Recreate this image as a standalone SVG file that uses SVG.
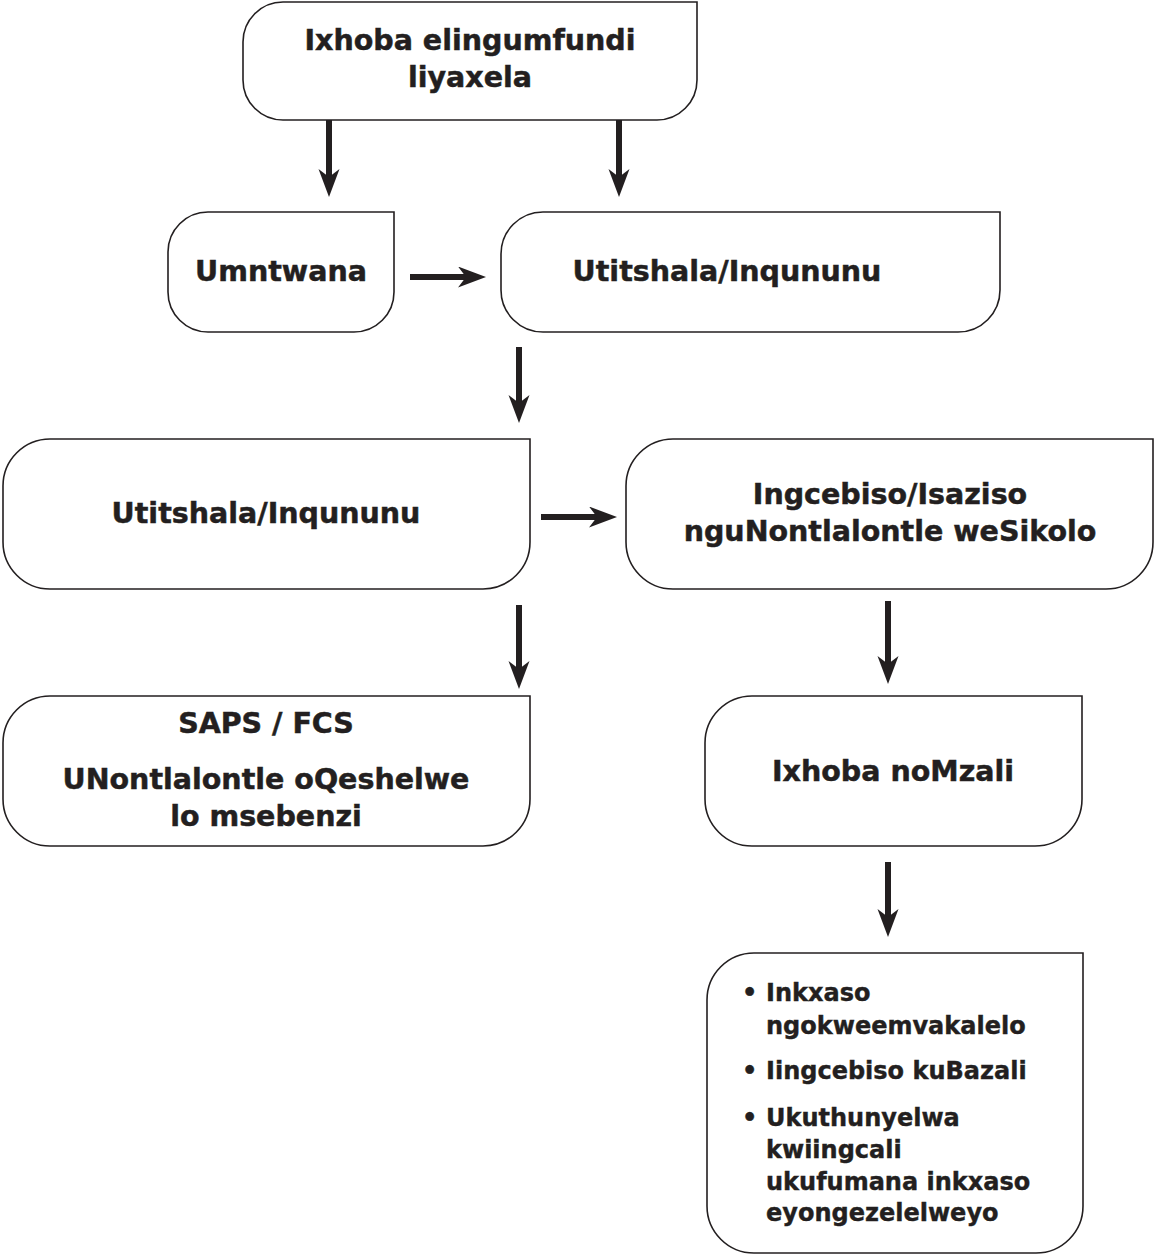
<svg xmlns="http://www.w3.org/2000/svg" width="1155" height="1255" viewBox="0 0 1155 1255">
<defs>
<style>
.box{fill:#fff;stroke:#231f20;stroke-width:1.6}
.t{font-family:"DejaVu Sans",sans-serif;font-weight:bold;font-size:28.5px;fill:#231f20;stroke:#231f20;stroke-width:0.5;text-anchor:middle}
.s{font-family:"DejaVu Sans",sans-serif;font-weight:bold;font-size:24px;fill:#231f20;stroke:#231f20;stroke-width:0.4}
.ln{stroke:#231f20;stroke-width:6;fill:none;marker-end:url(#ah)}
</style>
<marker id="ah" markerUnits="userSpaceOnUse" markerWidth="30" markerHeight="22" refX="18" refY="10.5" orient="auto">
<path d="M0,0 L28,10.5 L0,21 L8,10.5 Z" fill="#231f20"/>
</marker>
</defs>
<rect width="1155" height="1255" fill="#fff"/>
<g id="connectors">
<line class="ln" x1="329" y1="120" x2="329" y2="187"/>
<line class="ln" x1="619" y1="120" x2="619" y2="187"/>
<line class="ln" x1="410" y1="277" x2="476" y2="277"/>
<line class="ln" x1="519" y1="347" x2="519" y2="413"/>
<line class="ln" x1="541" y1="517" x2="607" y2="517"/>
<line class="ln" x1="519" y1="605" x2="519" y2="679"/>
<line class="ln" x1="888" y1="601" x2="888" y2="674"/>
<line class="ln" x1="888" y1="862" x2="888" y2="927"/>
</g>
<g id="n1">
<path class="box" d="M283,2 H697 V80 A40,40 0 0 1 657,120 H283 A40,40 0 0 1 243,80 V42 A40,40 0 0 1 283,2 Z"/>
<text class="t" x="470" y="50">Ixhoba elingumfundi</text>
<text class="t" x="470" y="87">liyaxela</text>
</g>
<g id="n2">
<path class="box" d="M208,212 H394 V292 A40,40 0 0 1 354,332 H208 A40,40 0 0 1 168,292 V252 A40,40 0 0 1 208,212 Z"/>
<text class="t" x="281" y="281">Umntwana</text>
</g>
<g id="n3">
<path class="box" d="M543,212 H1000 V290 A42,42 0 0 1 958,332 H543 A42,42 0 0 1 501,290 V254 A42,42 0 0 1 543,212 Z"/>
<text class="t" x="727" y="281">Utitshala/Inqununu</text>
</g>
<g id="n4">
<path class="box" d="M50,439 H530 V542 A47,47 0 0 1 483,589 H50 A47,47 0 0 1 3,542 V486 A47,47 0 0 1 50,439 Z"/>
<text class="t" x="266" y="523">Utitshala/Inqununu</text>
</g>
<g id="n5">
<path class="box" d="M673,439 H1153 V542 A47,47 0 0 1 1106,589 H673 A47,47 0 0 1 626,542 V486 A47,47 0 0 1 673,439 Z"/>
<text class="t" x="890" y="504">Ingcebiso/Isaziso</text>
<text class="t" x="890" y="541">nguNontlalontle weSikolo</text>
</g>
<g id="n6">
<path class="box" d="M50,696 H530 V799 A47,47 0 0 1 483,846 H50 A47,47 0 0 1 3,799 V743 A47,47 0 0 1 50,696 Z"/>
<text class="t" x="266" y="733">SAPS / FCS</text>
<text class="t" x="266" y="789">UNontlalontle oQeshelwe</text>
<text class="t" x="266" y="826">lo msebenzi</text>
</g>
<g id="n7">
<path class="box" d="M752,696 H1082 V799 A47,47 0 0 1 1035,846 H752 A47,47 0 0 1 705,799 V743 A47,47 0 0 1 752,696 Z"/>
<text class="t" x="893" y="781">Ixhoba noMzali</text>
</g>
<g id="n8">
<path class="box" d="M754,953 H1083 V1206 A47,47 0 0 1 1036,1253 H754 A47,47 0 0 1 707,1206 V1000 A47,47 0 0 1 754,953 Z"/>
<text class="s" x="742" y="1001">•</text>
<text class="s" x="766" y="1001">Inkxaso</text>
<text class="s" x="766" y="1034">ngokweemvakalelo</text>
<text class="s" x="742" y="1079">•</text>
<text class="s" x="766" y="1079">Iingcebiso kuBazali</text>
<text class="s" x="742" y="1126">•</text>
<text class="s" x="766" y="1126">Ukuthunyelwa</text>
<text class="s" x="766" y="1158">kwiingcali</text>
<text class="s" x="766" y="1190">ukufumana inkxaso</text>
<text class="s" x="766" y="1221">eyongezelelweyo</text>
</g>
</svg>
